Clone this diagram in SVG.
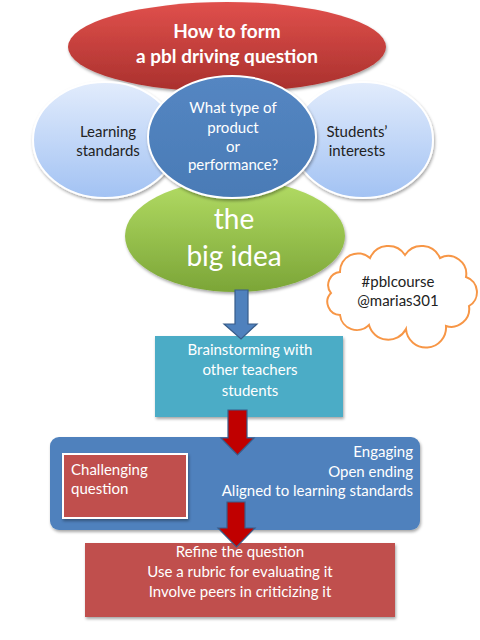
<svg xmlns="http://www.w3.org/2000/svg" width="480" height="640" viewBox="0 0 480 640">
<defs>
<linearGradient id="redG" x1="0" y1="0" x2="0" y2="1"><stop offset="0" stop-color="#e0504c"/><stop offset="1" stop-color="#a9302d"/></linearGradient>
<linearGradient id="lbG" x1="0" y1="0" x2="0" y2="1"><stop offset="0" stop-color="#e2ecfc"/><stop offset="1" stop-color="#a2c2f3"/></linearGradient>
<linearGradient id="grG" x1="0" y1="0" x2="0" y2="1"><stop offset="0" stop-color="#b3dc64"/><stop offset="1" stop-color="#7ba537"/></linearGradient>
<linearGradient id="bluG" x1="0" y1="0" x2="0" y2="1"><stop offset="0" stop-color="#5486c2"/><stop offset="1" stop-color="#4a7bb6"/></linearGradient>
<filter id="sh" x="-10%" y="-10%" width="125%" height="130%"><feDropShadow dx="1" dy="2" stdDeviation="1.5" flood-color="#000" flood-opacity="0.35"/></filter>
</defs>
<style>
text{font-family:Lato,"Liberation Sans",sans-serif;font-size:15px;fill:#fff}
.c{text-anchor:middle}
.r{text-anchor:end}
.dk{fill:#222}
.hd{font-weight:bold;font-size:19px}
.big{font-size:28px}
.ell{stroke:#fff;stroke-width:2}
.arB{fill:#4f81bd;stroke:#385d8a;stroke-width:1.2}
.arR{fill:#c00000;stroke:#385d8a;stroke-width:1.2}
</style>
<rect width="480" height="640" fill="#fff"/>
<g id="header">
<ellipse cx="227" cy="47" rx="159" ry="45" fill="url(#redG)" filter="url(#sh)"/>
<text class="c hd" x="227" y="38">How to form</text>
<text class="c hd" x="227" y="63">a pbl driving question</text>
</g>
<g id="big-idea">
<ellipse cx="235" cy="236" rx="110" ry="56" fill="url(#grG)" filter="url(#sh)"/>
<text class="c big" x="234" y="229">the</text>
<text class="c big" x="234" y="266">big idea</text>
</g>
<g id="learning-standards">
<ellipse class="ell" cx="105" cy="140" rx="72" ry="58" fill="url(#lbG)" filter="url(#sh)"/>
<text class="c dk" x="108" y="137">Learning</text>
<text class="c dk" x="108" y="156">standards</text>
</g>
<g id="students-interests">
<ellipse class="ell" cx="363" cy="140" rx="70" ry="58" fill="url(#lbG)" filter="url(#sh)"/>
<text class="c dk" x="357" y="137">Students’</text>
<text class="c dk" x="357" y="156">interests</text>
</g>
<g id="product-type">
<ellipse class="ell" cx="232" cy="137" rx="84" ry="61" fill="url(#bluG)" filter="url(#sh)"/>
<text class="c" x="233" y="113">What type of</text>
<text class="c" x="233" y="133">product</text>
<text class="c" x="233" y="152">or</text>
<text class="c" x="233" y="170">performance?</text>
</g>
<g id="hashtag-cloud">
<path d="M340 272 A18 18 0 0 1 370 258 A20 20 0 0 1 405 255 A20 20 0 0 1 440 258 A18 18 0 0 1 466 277 A16 16 0 0 1 469 306 A18 18 0 0 1 446 326 A20 20 0 0 1 406 329 A20 20 0 0 1 369 325 A17 17 0 0 1 340 315 A13 13 0 0 1 331 293 A13 13 0 0 1 340 272 Z" fill="#fff" stroke="#f79646" stroke-width="2"/>
<text class="c dk" x="398" y="287">#pblcourse</text>
<text class="c dk" x="398" y="306">@marias301</text>
</g>
<g id="brainstorming">
<rect x="155" y="336" width="188" height="81" fill="#4bacc6" filter="url(#sh)"/>
<text class="c" x="250" y="355">Brainstorming with</text>
<text class="c" x="250" y="375">other teachers</text>
<text class="c" x="250" y="396">students</text>
</g>
<g id="criteria">
<rect x="50" y="437" width="370" height="93" rx="9" fill="#4f81bd" filter="url(#sh)"/>
<text class="r" x="413" y="457">Engaging</text>
<text class="r" x="413" y="477">Open ending</text>
<text class="r" x="413" y="496">Aligned to learning standards</text>
</g>
<g id="challenging-question">
<rect x="63" y="454" width="124" height="64" fill="#c0504d" stroke="#fff" stroke-width="2" filter="url(#sh)"/>
<text x="71" y="475">Challenging</text>
<text x="71" y="494">question</text>
</g>
<g id="refine">
<rect x="85" y="543" width="310" height="74" fill="#c0504d" filter="url(#sh)"/>
<text class="c" x="240" y="557">Refine the question</text>
<text class="c" x="240" y="577">Use a rubric for evaluating it</text>
<text class="c" x="240" y="597">Involve peers in criticizing it</text>
</g>
<g id="connectors">
<path class="arB" d="M235 290 H248 V324 H257 L241 339 L224 324 H235 Z"/>
<path class="arR" d="M228 410 H247 V438 H254 L237.5 455 L221 438 H228 Z"/>
<path class="arR" d="M227 502 H245 V528 H255 L236.5 547 L218 528 H227 Z"/>
</g>
</svg>
